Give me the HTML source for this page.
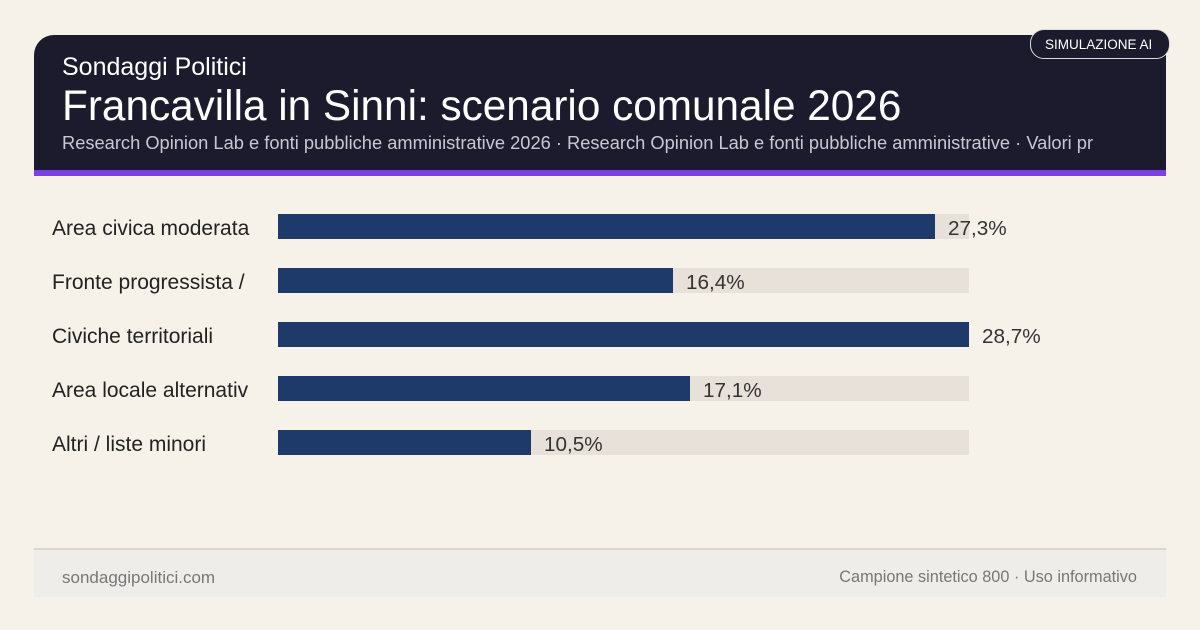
<!DOCTYPE html>
<html><head><meta charset="utf-8"><style>
*{margin:0;padding:0;box-sizing:border-box}
body{width:1200px;height:630px;background:#f6f2ea;font-family:"Liberation Sans",sans-serif;position:relative;overflow:hidden}
.hdr{position:absolute;left:34px;top:35px;width:1132px;height:135px;background:#1c1b2e;border-radius:20px 20px 0 0}
.hdr2{position:absolute;left:34px;top:150px;width:1132px;height:20px;background:#1c1b2e;border-radius:0 0 20px 20px}
.purple{position:absolute;left:34px;top:170px;width:1132px;height:6px;background:#7b3fe4}
.badge{position:absolute;left:1030px;top:29px;width:140px;height:30px;border:1px solid #ddd;border-radius:14px;color:#fff;font-size:13.5px;padding:7px 0 0 14px;background:#1c1b2e}
.t1{position:absolute;left:62px;top:53px;color:#fff;font-size:25px}
.t2{position:absolute;left:62px;top:82px;color:#fff;font-size:42.3px}
.t3{position:absolute;left:62px;top:132px;color:#c9c8d2;font-size:18.3px;white-space:nowrap}
.lab{position:absolute;left:52px;font-size:21px;color:#222}
.track{position:absolute;left:278px;width:691px;height:25px;background:#e8e1d9}
.bar{position:absolute;left:278px;height:25px;background:#1e3a6a}
.val{position:absolute;font-size:20.7px;color:#333}
.foot{position:absolute;left:34px;top:548px;width:1132px;height:49px;background:#eeede9;border-top:2px solid #d9d6d0}
.fl{position:absolute;left:62px;top:568px;font-size:17px;color:#777}
.fr{position:absolute;right:63px;top:568px;font-size:16.3px;color:#777}
</style></head><body>
<div class="hdr"></div><div class="hdr2"></div><div class="purple"></div>
<div class="badge">SIMULAZIONE AI</div>
<div class="t1">Sondaggi Politici</div>
<div class="t2">Francavilla in Sinni: scenario comunale 2026</div>
<div class="t3">Research Opinion Lab e fonti pubbliche amministrative 2026 · Research Opinion Lab e fonti pubbliche amministrative · Valori pr</div>

<div class="lab" style="top:217px">Area civica moderata</div>
<div class="track" style="top:214px"></div><div class="bar" style="top:214px;width:657px"></div>
<div class="val" style="left:948px;top:217px">27,3%</div>

<div class="lab" style="top:271px">Fronte progressista /</div>
<div class="track" style="top:268px"></div><div class="bar" style="top:268px;width:395px"></div>
<div class="val" style="left:686px;top:271px">16,4%</div>

<div class="lab" style="top:325px">Civiche territoriali</div>
<div class="track" style="top:322px"></div><div class="bar" style="top:322px;width:691px"></div>
<div class="val" style="left:982px;top:325px">28,7%</div>

<div class="lab" style="top:379px">Area locale alternativ</div>
<div class="track" style="top:376px"></div><div class="bar" style="top:376px;width:412px"></div>
<div class="val" style="left:703px;top:379px">17,1%</div>

<div class="lab" style="top:433px">Altri / liste minori</div>
<div class="track" style="top:430px"></div><div class="bar" style="top:430px;width:253px"></div>
<div class="val" style="left:544px;top:433px">10,5%</div>

<div class="foot"></div>
<div class="fl">sondaggipolitici.com</div>
<div class="fr">Campione sintetico 800 · Uso informativo</div>
</body></html>
